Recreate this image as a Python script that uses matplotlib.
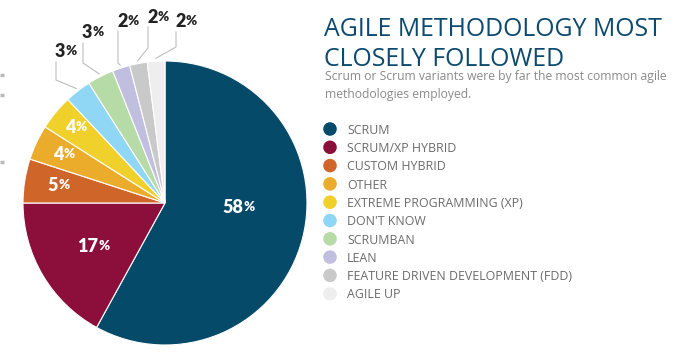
import numpy as np
import matplotlib.pyplot as plt

# data
methods = ['SCRUM', 'SCRUM/XP HYBRID', 'CUSTOM HYBRID', 'OTHER',
           'EXTREME PROGRAMMING (XP)', "DON'T KNOW", 'SCRUMBAN', 'LEAN',
           'FEATURE DRIVEN DEVELOPMENT (FDD)', 'AGILE UP']
shares = [58, 17, 5, 4, 4, 3, 3, 2, 2, 2]
colors = ['#064a6a', '#8b0e3b', '#d0652a', '#ebab2b', '#f0d02a',
          '#8fd7f5', '#b6dba7', '#c1bfe0', '#c9c9c9', '#eeeeee']

title = 'AGILE METHODOLOGY MOST\nCLOSELY FOLLOWED'
subtitle = 'Scrum or Scrum variants were by far the most common agile\nmethodologies employed.'

# layout (pixel coords, y down)
cx, cy, R = 165, 203, 142
# inside labels: (radius fraction, angle shift in deg)
inside = {0: (0.51, -10.5), 1: (0.60, 0), 2: (0.77, 0), 3: (0.80, 0), 4: (0.83, 0)}
# outside labels: line x, elbow y, line top y, text baseline y
outside = {5: (56, 80, 62, 57), 6: (83, 63, 43, 38), 7: (118, 63, 31, 27),
           8: (148, 48, 27, 23), 9: (176, 47, 32, 27)}

fig = plt.figure(figsize=(6.81, 3.56), dpi=100)
ax = fig.add_axes([0, 0, 1, 1])

ax.pie(shares, colors=colors, startangle=-90, counterclock=True,
       center=(cx, cy), radius=R,
       wedgeprops=dict(edgecolor='white', linewidth=0.8))
ax.set_xlim(0, 681)
ax.set_ylim(356, 0)
ax.set_aspect('equal')
ax.axis('off')

frac = np.array(shares) / sum(shares)
mids = -90 + 360 * (np.cumsum(frac) - frac / 2)

lab_font = dict(family='Lato', weight='heavy')
for i, v in enumerate(shares):
    th = np.radians(mids[i])
    if i in inside:
        rf, shift = inside[i]
        th2 = np.radians(mids[i] + shift)
        x = cx + rf * R * np.cos(th2)
        y = cy + rf * R * np.sin(th2)
        t = ax.text(x - 4, y, str(v), color='white', fontsize=13,
                    ha='center', va='center', **lab_font)
        ax.annotate('%', xy=(1, 0.9), xycoords=t, color='white', fontsize=9.5,
                    ha='left', va='top', **lab_font)
    else:
        lx, ey, ty, by = outside[i]
        px = cx + (R + 3) * np.cos(th)
        py = cy + (R + 3) * np.sin(th)
        ax.plot([px, lx, lx], [py, ey, ty], color='#bdbdbd', lw=0.8)
        t = ax.text(lx - 1, by, str(v), color='#222222', fontsize=13,
                    ha='left', va='baseline', **lab_font)
        ax.annotate('%', xy=(1, 0.9), xycoords=t, color='#222222', fontsize=9.5,
                    ha='left', va='top', **lab_font)

# stray marks at left edge
for y in [75, 95, 162]:
    ax.plot([0, 4], [y, y], color='#bbbbbb', lw=2.5, solid_capstyle='butt')

# titles
ax.text(324, 17, title, color='#0c4a70', fontsize=17.9, family='Open Sans',
        ha='left', va='top', linespacing=1.27)
ax.text(325, 70, subtitle, color='#8a8a8a', fontsize=8.7, family='Open Sans',
        ha='left', va='top', linespacing=1.5)

# legend
for i, m in enumerate(methods):
    y = 129 + i * 18.3
    ax.scatter([330], [y], s=95, color=colors[i], edgecolor='none')
    ax.text(347, y + 4.7, m, color='#6b6b6b', fontsize=8.9, family='Open Sans',
            ha='left', va='baseline')

fig.savefig('out.png', dpi=100, facecolor='white')
